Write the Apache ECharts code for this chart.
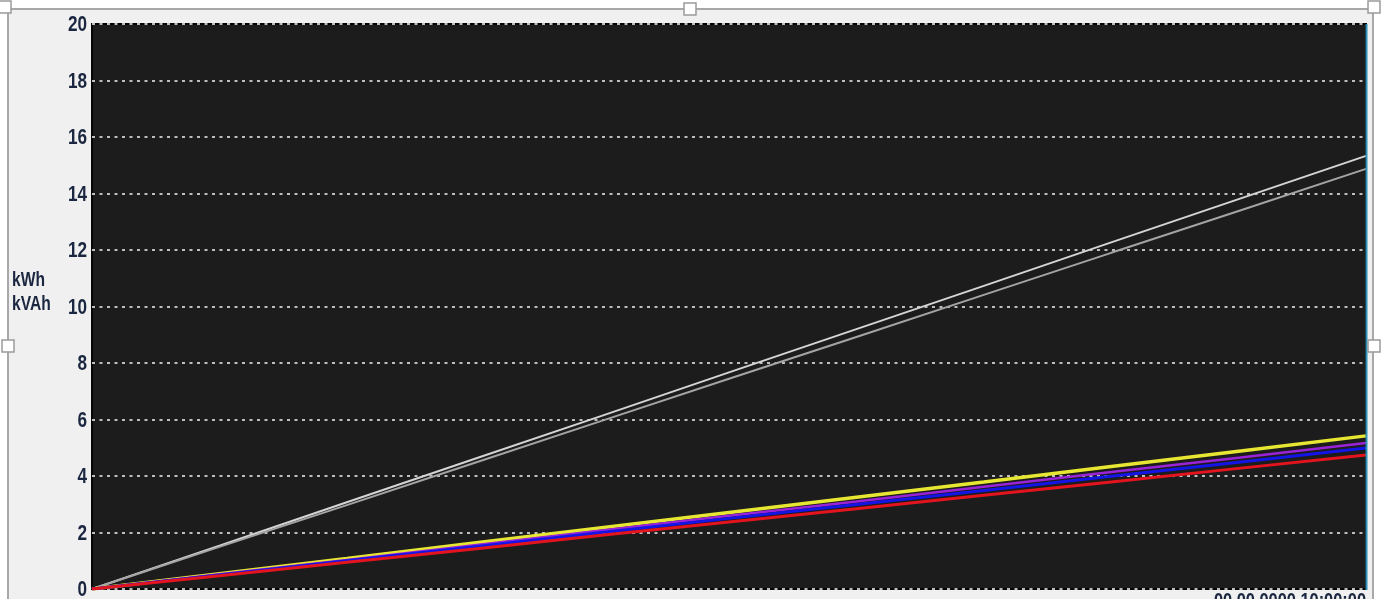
<!DOCTYPE html>
<html>
<head>
<meta charset="utf-8">
<script src="https://cdn.jsdelivr.net/npm/echarts@6/dist/echarts.min.js"></script>
<style>
  html, body { margin: 0; padding: 0; background: #ffffff; }
  #chart { width: 1382px; height: 599px; }
</style>
</head>
<body>
<div id="chart"></div>
<script>
// Time stamps along the energy counter axis (hourly readings)
const times = ['00:00:00', '01:00:00', '02:00:00', '03:00:00', '04:00:00', '05:00:00',
               '06:00:00', '07:00:00', '08:00:00', '09:00:00', '10:00:00'];
const lastTimeLabel = '00.00.0000 10:00:00';

// Apparent energy totals (kVAh)
const apparentA = [0, 1.53, 3.07, 4.60, 6.13, 7.67, 9.20, 10.73, 12.27, 13.80, 15.33];
const apparentB = [0, 1.49, 2.97, 4.46, 5.95, 7.44, 8.92, 10.41, 11.90, 13.38, 14.87];

// Active energy per phase (kWh)
const phaseYellow = [0, 0.54, 1.08, 1.63, 2.17, 2.71, 3.25, 3.79, 4.34, 4.88, 5.42];
const phasePurple = [0, 0.52, 1.03, 1.55, 2.07, 2.59, 3.10, 3.62, 4.14, 4.65, 5.17];
const phaseBlue   = [0, 0.50, 1.00, 1.50, 2.00, 2.50, 2.99, 3.49, 3.99, 4.49, 4.99];
const phaseRed    = [0, 0.47, 0.95, 1.42, 1.90, 2.37, 2.84, 3.32, 3.79, 4.27, 4.74];

// Value axis ticks
const yTicks = [0, 2, 4, 6, 8, 10, 12, 14, 16, 18, 20];

const labelFont = "'Liberation Sans', Arial, sans-serif";
const textColor = '#1b2740';
const narrow = 0.78;   // horizontal squeeze for the condensed label face

const chart = echarts.init(document.getElementById('chart'), null, { renderer: 'canvas' });

function line(name, data, color, width, z) {
  return {
    name: name,
    type: 'line',
    data: data,
    symbol: 'none',
    smooth: false,
    z: z,
    lineStyle: { color: color, width: width },
    animation: false
  };
}

// small white handle square of the selection frame
function handle(cx, cy) {
  return {
    type: 'rect',
    shape: { x: cx - 6, y: cy - 6, width: 12, height: 12 },
    style: { fill: '#ffffff', stroke: '#9a9a9a', lineWidth: 1.5 },
    z: 20
  };
}

// condensed text element anchored at (x, y)
function narrowText(text, x, y, size, align, vAlign, lineHeight) {
  return {
    type: 'text',
    x: x, y: y,
    scaleX: narrow,
    z: 15,
    style: {
      x: 0, y: 0,
      text: text,
      font: 'bold ' + size + 'px ' + labelFont,
      fill: textColor,
      align: align,
      verticalAlign: vAlign,
      lineHeight: lineHeight || size
    }
  };
}

const baseGraphic = [
  // form panel background and selection frame
  { type: 'rect', shape: { x: 8, y: 9, width: 1365, height: 600 },
    style: { fill: '#f0f0f0', stroke: '#a8a8a8', lineWidth: 2 }, z: -10 },
  // plot frame: bevelled right edge
  { type: 'line', shape: { x1: 1366.5, y1: 24, x2: 1366.5, y2: 590 },
    style: { stroke: '#2b8fb3', lineWidth: 2 }, z: 10 },
  handle(5, 7), handle(690, 9), handle(1374, 7),
  handle(8, 346), handle(1374, 346),
  // unit caption of the value axis
  narrowText('kWh\nkVAh', 12, 268, 20, 'left', 'top', 24)
];

chart.setOption({
  backgroundColor: '#ffffff',
  animation: false,
  graphic: baseGraphic,
  grid: {
    left: 92, right: 16, top: 24, bottom: 10,
    outerBoundsMode: 'none',
    containLabel: false,
    show: true,
    backgroundColor: '#1c1c1c',
    borderColor: '#050505',
    borderWidth: 2
  },
  xAxis: {
    type: 'category',
    data: times,
    boundaryGap: false,
    axisLine: { show: false },
    axisTick: { show: false },
    splitLine: { show: false },
    axisLabel: { show: false }
  },
  yAxis: {
    type: 'value',
    min: yTicks[0],
    max: yTicks[yTicks.length - 1],
    interval: 2,
    axisLine: { show: false },
    axisTick: { show: false },
    axisLabel: { show: false },
    splitLine: {
      show: true,
      lineStyle: { color: '#bdbdbd', width: 2, type: [3, 4.5] }
    }
  },
  series: [
    line('kVAh A', apparentA, '#d4d4d4', 2, 3),
    line('kVAh B', apparentB, '#a4a4a4', 2, 3),
    line('kWh L1', phaseYellow, '#e6e633', 3.5, 4),
    line('kWh L2', phasePurple, '#9a22d8', 2.5, 5),
    line('kWh L3', phaseBlue, '#1414e6', 3, 6),
    line('kWh Sum', phaseRed, '#e4141e', 3, 7)
  ]
});

// Axis labels in a condensed face, placed through the axes' own scales
const tickLabels = yTicks.map(function (v) {
  const py = chart.convertToPixel({ yAxisIndex: 0 }, v);
  const px = chart.convertToPixel({ xAxisIndex: 0 }, times[0]);
  return narrowText(String(v), px - 5, py + 1, 22, 'right', 'middle');
});
const lastX = chart.convertToPixel({ xAxisIndex: 0 }, times[times.length - 1]);
const baseY = chart.convertToPixel({ yAxisIndex: 0 }, yTicks[0]);
const timeLabel = narrowText(lastTimeLabel, lastX, baseY + 2, 21, 'right', 'top');

chart.setOption({ graphic: baseGraphic.concat(tickLabels, [timeLabel]) });
</script>
</body>
</html>
